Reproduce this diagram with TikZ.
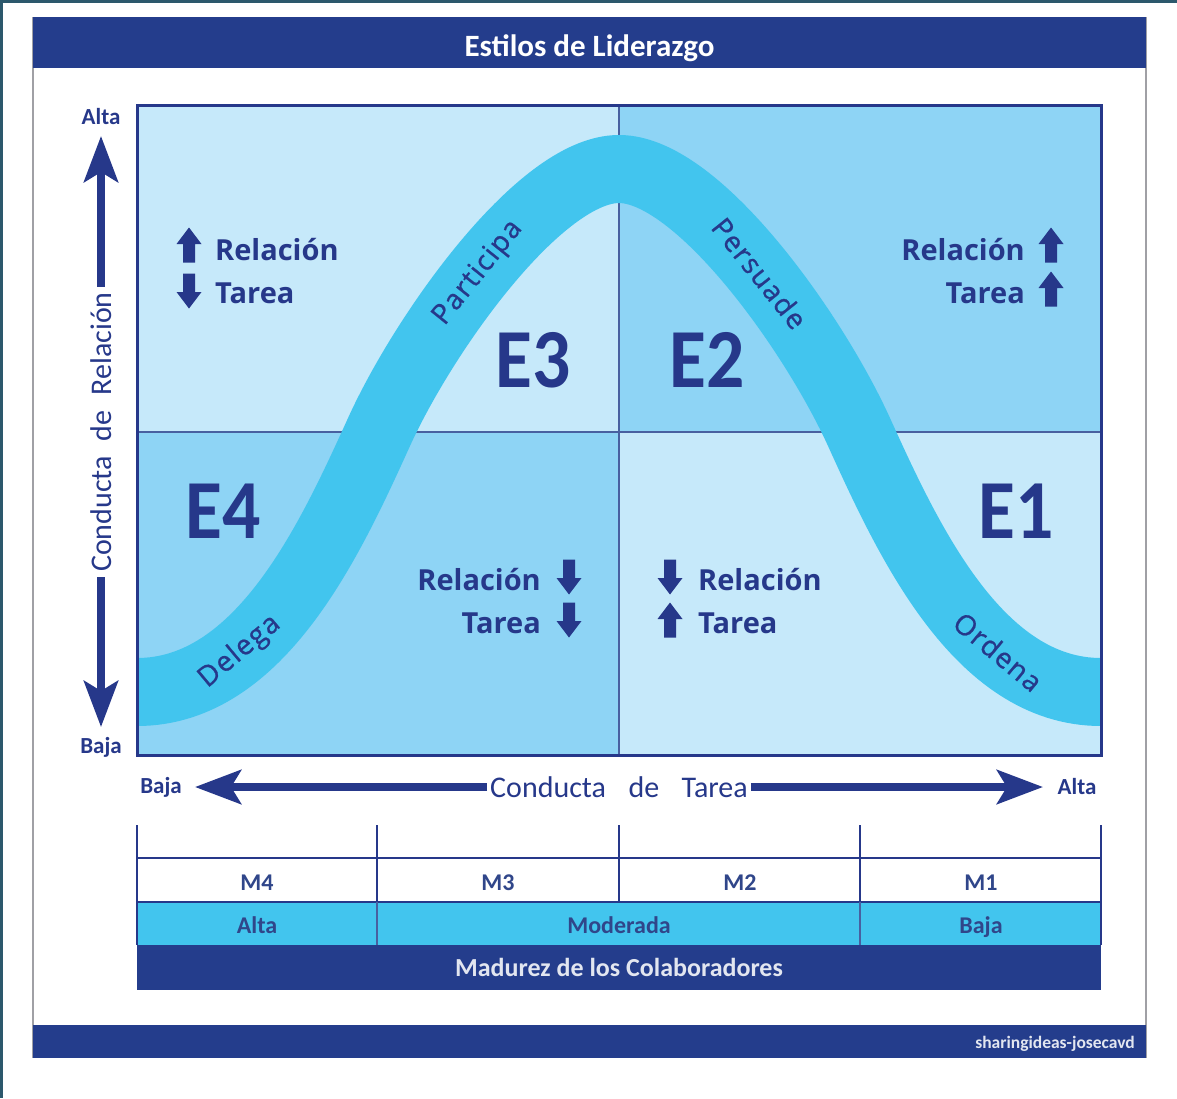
\documentclass[tikz,border=0pt]{standalone}
\usepackage{fontspec}
\usepackage{graphicx}
\setmainfont{Carlito}
\newfontfamily\osans{Open Sans}
\newfontfamily\curvefont[LetterSpace=5,FakeBold=0.8]{Open Sans}
\usetikzlibrary{arrows.meta}

\definecolor{dblue}{RGB}{38,56,138}
\definecolor{barblue}{RGB}{36,61,140}
\definecolor{lightq}{RGB}{198,233,250}
\definecolor{midq}{RGB}{142,212,245}
\definecolor{bandc}{RGB}{66,197,238}
\definecolor{gridc}{RGB}{72,96,160}
\definecolor{edgeteal}{RGB}{44,88,108}
\definecolor{panelgray}{RGB}{160,160,165}
\definecolor{bartext}{RGB}{226,230,240}
\definecolor{celltext}{RGB}{48,70,138}

\begin{document}
\begin{tikzpicture}[x=1pt,y=-1pt,
  qtext/.style={font=\osans\bfseries\fontsize{29}{34}\selectfont, text=dblue, inner sep=0pt},
  elabel/.style={font=\bfseries\fontsize{84}{90}\selectfont, text=dblue, inner sep=0pt},
  curvelabel/.style={font=\curvefont\fontsize{28}{30}\selectfont, text=dblue, sloped, inner sep=0pt},
  axislabel/.style={font=\fontsize{30}{34}\selectfont, text=dblue, inner sep=5pt},
  endlabel/.style={font=\bfseries\fontsize{23}{26}\selectfont, text=dblue, inner sep=0pt},
  axisarrow/.style={line width=8pt, draw=dblue, -{Stealth[length=46pt,width=34pt,inset=10pt]}},
  tabletext/.style={font=\bfseries\fontsize{24}{28}\selectfont, text=celltext, inner sep=0pt, anchor=base},
  gridline/.style={draw=gridc, line width=2.5pt},
  tableline/.style={draw=dblue, line width=2.5pt},
  band/.style={draw=bandc, line width=68pt},
  uparr/.pic={\fill[dblue] (0,-17.5) -- (12.5,-1) -- (6,-1) -- (6,17.5) -- (-6,17.5) -- (-6,-1) -- (-12.5,-1) -- cycle;},
  downarr/.pic={\fill[dblue] (0,17.5) -- (12.5,1) -- (6,1) -- (6,-17.5) -- (-6,-17.5) -- (-6,1) -- (-12.5,1) -- cycle;}
]
\useasboundingbox (0,0) rectangle (1177,1098);
\fill[white] (0,0) rectangle (1177,1098);
% thin frame of the sheet
\fill[edgeteal] (0,0) rectangle (1177,3);
\fill[edgeteal] (0,0) rectangle (3,1098);

% panel, title bar and footer bar
\fill[white] (33,17) rectangle (1146,1058);
\draw[panelgray, line width=1.5pt] (33,17) -- (33,1058) (1146,17) -- (1146,1058);
\fill[barblue] (33,17) rectangle (1146,68);
\node[font=\bfseries\fontsize{31}{34}\selectfont, text=white, anchor=base] (title) at (589.5,56) {Estilos de Liderazgo};
\fill[barblue] (33,1025) rectangle (1146,1058);
\node[font=\bfseries\fontsize{17.5}{20}\selectfont, text=bartext, anchor=base east, inner sep=0pt] (credit) at (1135,1048) {sharingideas-josecavd};

% quadrants
\fill[lightq] (137,105) rectangle (619,432);
\fill[midq] (619,105) rectangle (1101,432);
\fill[midq] (137,432) rectangle (619,755);
\fill[lightq] (619,432) rectangle (1101,755);
\draw[gridline] (619,105) -- (619,755) (137,432) -- (1101,432);

% bell-shaped band
\coordinate (k0) at (137,692);
\coordinate (k1) at (260,692);
\coordinate (k2) at (330,540);
\coordinate (k3) at (379,432);
\coordinate (k4) at (424,333);
\coordinate (k5) at (540,169);
\coordinate (k6) at (619,169);
\coordinate (k7) at (698,169);
\coordinate (k8) at (814,333);
\coordinate (k9) at (859,432);
\coordinate (k10) at (908,540);
\coordinate (k11) at (978,692);
\coordinate (k12) at (1101,692);
\begin{scope}
  \clip (137,105) rectangle (1101,755);
  \draw[band] (k0) .. controls (k1) and (k2) .. (k3) .. controls (k4) and (k5) .. (k6)
              .. controls (k7) and (k8) .. (k9) .. controls (k10) and (k11) .. (k12);
\end{scope}
\path (k0) .. controls (k1) and (k2) .. (k3) node[curvelabel, pos=0.32] (delega) {Delega};
\path (k3) .. controls (k4) and (k5) .. (k6) node[curvelabel, pos=0.47] (participa) {Participa};
\path (k6) .. controls (k7) and (k8) .. (k9) node[curvelabel, pos=0.53] (persuade) {Persuade};
\path (k9) .. controls (k10) and (k11) .. (k12) node[curvelabel, pos=0.68] (ordena) {Ordena};

\draw[dblue, line width=3pt] (137,105) rectangle (1101,755);

% style names
\node[elabel, anchor=base] (e3) at (533,387) {\scalebox{0.9}[1]{E3}};
\node[elabel, anchor=base] (e2) at (707,387) {\scalebox{0.9}[1]{E2}};
\node[elabel, anchor=base] (e4) at (223,538) {\scalebox{0.9}[1]{E4}};
\node[elabel, anchor=base] (e1) at (1016,538) {\scalebox{0.9}[1]{E1}};

% relation / task indicators
\pic at (189,245) {uparr};
\pic at (189,291) {downarr};
\node[qtext, anchor=base west] (tlr) at (215,260) {Relación};
\node[qtext, anchor=base west] (tlt) at (215,303) {Tarea};

\pic at (1051,245) {uparr};
\pic at (1051,289) {uparr};
\node[qtext, anchor=base east] (trr) at (1025,260) {Relación};
\node[qtext, anchor=base east] (trt) at (1025,303) {Tarea};

\pic at (569,577) {downarr};
\pic at (569,620) {downarr};
\node[qtext, anchor=base east] (blr) at (541,590) {Relación};
\node[qtext, anchor=base east] (blt) at (541,633) {Tarea};

\pic at (670,577) {downarr};
\pic at (670,620) {uparr};
\node[qtext, anchor=base west] (brr) at (698,590) {Relación};
\node[qtext, anchor=base west] (brt) at (698,633) {Tarea};

% vertical axis
\node[axislabel, rotate=90] (ylab) at (101,432) {Conducta\hspace{0.5em}de\hspace{0.5em}Relación};
\coordinate (ytop) at (101,136);
\coordinate (ybot) at (101,727);
\draw[axisarrow] (ylab) -- (ytop);
\draw[axisarrow] (ylab) -- (ybot);
\node[endlabel] (yhigh) at (101,117) {Alta};
\node[endlabel] (ylow) at (101,747) {Baja};

% horizontal axis
\node[axislabel, inner sep=3pt] (xlab) at (619,787) {Conducta\hspace{0.75em}de\hspace{0.75em}Tarea};
\coordinate (xleft) at (195,787);
\coordinate (xright) at (1043,787);
\draw[axisarrow] (xlab) -- (xleft);
\draw[axisarrow] (xlab) -- (xright);
\node[endlabel] (xlow) at (161,787) {Baja};
\node[endlabel] (xhigh) at (1077,787) {Alta};

% maturity table
\fill[bandc] (137,902) rectangle (1101,945);
\fill[barblue] (137,945) rectangle (1101,990);
\draw[tableline] (137,825) -- (137,945) (1101,825) -- (1101,945)
                 (377,825) -- (377,902) (619,825) -- (619,902) (860,825) -- (860,902)
                 (137,858) -- (1101,858) (137,902) -- (1101,902);
\draw[gridc, line width=2pt] (377,902) -- (377,945) (860,902) -- (860,945);
\node[tabletext] (m4) at (257,890) {M4};
\node[tabletext] (m3) at (498,890) {M3};
\node[tabletext] (m2) at (740,890) {M2};
\node[tabletext] (m1) at (981,890) {M1};
\node[tabletext] (high) at (257,933) {Alta};
\node[tabletext] (moderate) at (619,933) {Moderada};
\node[tabletext] (low) at (981,933) {Baja};
\node[tabletext, text=bartext, font=\bfseries\fontsize{26}{30}\selectfont] (maturity) at (619,976) {Madurez de los Colaboradores};
\end{tikzpicture}
\end{document}
